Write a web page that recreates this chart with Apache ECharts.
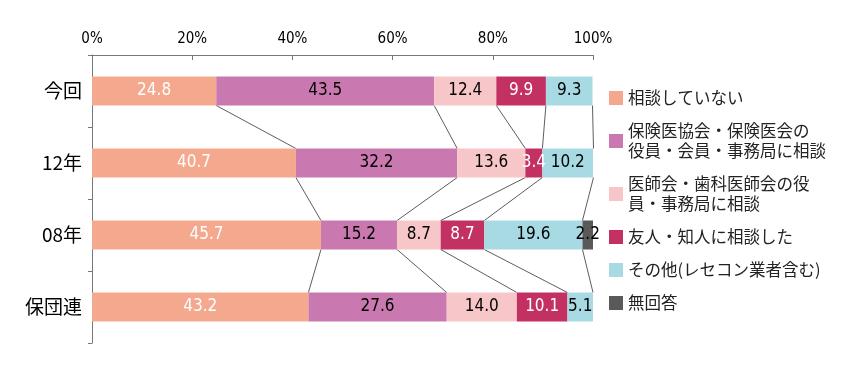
<!DOCTYPE html>
<html><head><meta charset="utf-8">
<script src="https://cdn.jsdelivr.net/npm/echarts@6/dist/echarts.min.js"></script>
<style>html,body{margin:0;padding:0;background:#fff}#c{width:850px;height:369px}</style>
</head><body><div id="c"></div>
<script>
const categories = ['今回', '12年', '08年', '保団連'];
const seriesNames = ['相談していない', '保険医協会・保険医会の\n役員・会員・事務局に相談', '医師会・歯科医師会の役\n員・事務局に相談', '友人・知人に相談した', 'その他(レセコン業者含む)', '無回答'];
const vNone = [24.8, 40.7, 45.7, 43.2];
const vHoken = [43.5, 32.2, 15.2, 27.6];
const vIshi = [12.4, 13.6, 8.7, 14.0];
const vYujin = [9.9, 3.4, 8.7, 10.1];
const vOther = [9.3, 10.2, 19.6, 5.1];
const vNoAns = [null, null, 2.2, null];
const xTicks = [0, 20, 40, 60, 80, 100];

const allValues = [vNone, vHoken, vIshi, vYujin, vOther, vNoAns];
const colors = ['#F4A98F', '#C978B0', '#F7C6C8', '#C33163', '#A8DAE3', '#595959'];
const labelColors = ['#fff', '#000', '#000', '#fff', '#000', '#000'];
const BAR_W = 29;
const numFont = "'Liberation Sans Narrow','DejaVu Sans Condensed','Roboto',sans-serif";
const jpFont = "'Noto Sans CJK JP','Noto Sans CJK SC',sans-serif";

const barSeries = allValues.map((vals, i) => ({
  name: seriesNames[i],
  type: 'bar',
  stack: 'total',
  barWidth: BAR_W,
  data: vals.map(v => v == null ? '-' : v),
  itemStyle: { color: colors[i] },
  label: {
    show: true,
    position: 'inside',
    color: labelColors[i],
    fontFamily: numFont,
    fontSize: 17,
    formatter: p => Number(p.value).toFixed(1)
  },
  emphasis: { disabled: true },
  z: 2
}));

// connector lines between cumulative boundaries of the first 5 series
const cum = categories.map((c, ci) => {
  let s = 0; const out = [];
  for (let k = 0; k < 5; k++) { s += allValues[k][ci] || 0; out.push(+s.toFixed(1)); }
  return out;
});
const connData = [];
for (let ci = 0; ci < categories.length - 1; ci++) {
  for (let k = 0; k < 5; k++) {
    connData.push([cum[ci][k], ci, cum[ci + 1][k], ci + 1]);
  }
}

const connSeries = {
  type: 'custom',
  data: connData,
  encode: { x: [0, 2], y: [1, 3] },
  silent: true,
  z: 1,
  renderItem: (params, api) => {
    const p1 = api.coord([api.value(0), api.value(1)]);
    const p2 = api.coord([api.value(2), api.value(3)]);
    const h = BAR_W / 2;
    return {
      type: 'line',
      shape: { x1: p1[0], y1: p1[1] + h, x2: p2[0], y2: p2[1] - h },
      style: { stroke: '#333', lineWidth: 0.8 }
    };
  }
};

const chart = echarts.init(document.getElementById('c'), null, { renderer: 'canvas' });
chart.setOption({
  animation: false,
  backgroundColor: '#fff',
  grid: { left: 92, right: 257, top: 55, bottom: 26 },
  xAxis: {
    type: 'value',
    position: 'top',
    min: 0, max: 100, interval: 20,
    axisLine: { show: true, lineStyle: { color: '#777', width: 1 } },
    axisTick: { show: true, inside: true, length: 5, lineStyle: { color: '#777' } },
    splitLine: { show: false },
    axisLabel: {
      color: '#000', fontFamily: numFont, fontSize: 15, margin: 8,
      formatter: v => xTicks.includes(v) ? v + '%' : ''
    }
  },
  yAxis: {
    type: 'category',
    data: categories,
    inverse: true,
    axisLine: { show: true, lineStyle: { color: '#777', width: 1 } },
    axisTick: { show: true, length: 4, lineStyle: { color: '#777' } },
    axisLabel: { color: '#000', fontFamily: jpFont, fontSize: 19, margin: 10 }
  },
  legend: {
    orient: 'vertical',
    left: 604,
    top: 83,
    itemWidth: 14,
    itemHeight: 14,
    itemGap: 13,
    icon: 'rect',
    data: seriesNames,
    textStyle: { color: '#222', fontFamily: jpFont, fontSize: 16.5, lineHeight: 20 }
  },
  series: [...barSeries, connSeries]
});
</script>
</body></html>
